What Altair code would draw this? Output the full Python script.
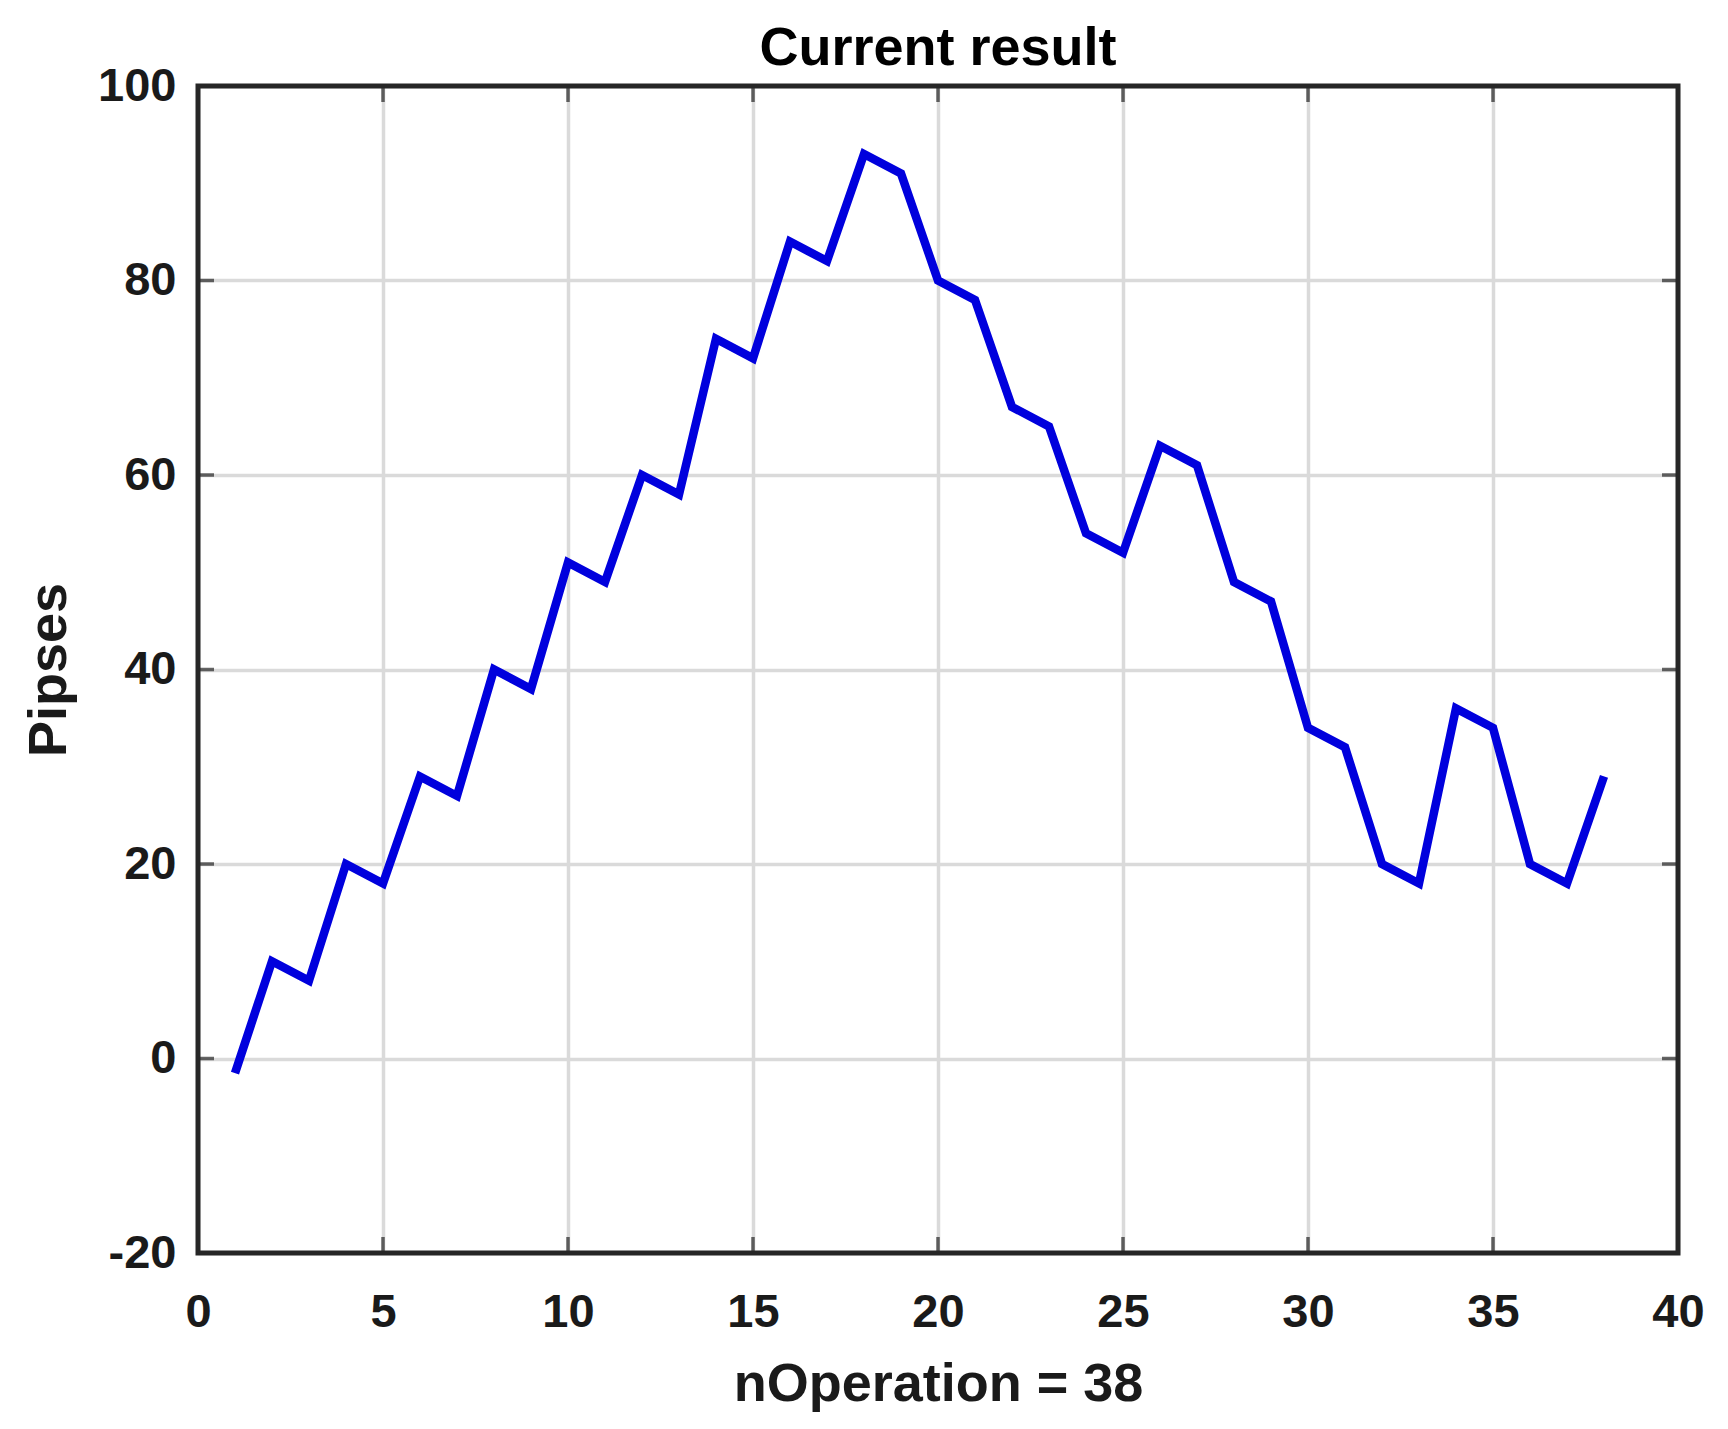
import altair as alt
import pandas as pd

# Data
n_operation = list(range(1, 39))
pipses = [-1.5, 10, 8, 20, 18, 29, 27, 40, 38, 51,
          49, 60, 58, 74, 72, 84, 82, 93, 91, 80,
          78, 67, 65, 54, 52, 63, 61, 49, 47, 34,
          32, 20, 18, 36, 34, 20, 18, 29]
x_ticks = [0, 5, 10, 15, 20, 25, 30, 35, 40]
y_ticks = [-20, 0, 20, 40, 60, 80, 100]

df = pd.DataFrame({"nOperation": n_operation, "Pipses": pipses})
xt = pd.DataFrame({"nOperation": x_ticks})
yt = pd.DataFrame({"Pipses": y_ticks})
box = pd.DataFrame({"k": [0]})

W, H = 1480, 1167
FONT = "Liberation Sans"
DARK = "#262626"

xscale = alt.Scale(domain=[0, 40], nice=False, zero=False)
yscale = alt.Scale(domain=[-20, 100], nice=False, zero=False)

xaxis = alt.Axis(values=x_ticks, title="nOperation = 38", grid=True, ticks=False,
                 domain=False, labelPadding=36, titlePadding=22, labelFlush=False,
                 labelExpr="'' + datum.value")
yaxis = alt.Axis(values=y_ticks, title="Pipses", grid=True, ticks=False,
                 domain=False, labelPadding=22, titlePadding=21, labelFlush=False,
                 labelExpr="'' + datum.value")

X = alt.X("nOperation:Q", scale=xscale, axis=xaxis)
Y = alt.Y("Pipses:Q", scale=yscale, axis=yaxis)

line = alt.Chart(df).mark_line(color="#0000dd", strokeWidth=8.5, strokeJoin="miter").encode(
    x=X, y=Y,
)

tick_len = 16
bottom_ticks = alt.Chart(xt).mark_tick(color=DARK, thickness=3.5, size=tick_len).encode(
    x=X, y=alt.value(H - tick_len / 2))
top_ticks = alt.Chart(xt).mark_tick(color=DARK, thickness=3.5, size=tick_len).encode(
    x=X, y=alt.value(tick_len / 2))
left_ticks = alt.Chart(yt).mark_tick(color=DARK, thickness=3.5, size=tick_len).encode(
    y=Y, x=alt.value(tick_len / 2))
right_ticks = alt.Chart(yt).mark_tick(color=DARK, thickness=3.5, size=tick_len).encode(
    y=Y, x=alt.value(W - tick_len / 2))

frame = alt.Chart(box).mark_rect(fill=None, fillOpacity=0, stroke=DARK, strokeWidth=5).encode(
    x=alt.value(0), x2=alt.value(W), y=alt.value(0), y2=alt.value(H))

chart = alt.layer(line, bottom_ticks, top_ticks, left_ticks, right_ticks, frame).properties(
    width=W, height=H,
    title=alt.TitleParams("Current result", anchor="middle", fontSize=54, font=FONT,
                          fontWeight="bold", color="#000000", offset=-14),
    autosize=alt.AutoSizeParams(type="none"),
    padding={"left": 190, "top": 78, "right": 30, "bottom": 160},
    background="white",
).configure_view(
    stroke=None
).configure_axis(
    gridColor="#dadada", gridWidth=3.5, gridOpacity=1,
    labelFont=FONT, labelFontSize=47, labelFontWeight="bold", labelColor="#1a1a1a",
    titleFont=FONT, titleFontSize=54, titleFontWeight="bold", titleColor="#1a1a1a",
)

chart.save("out.html", embed_options={"renderer": "svg", "actions": False})
